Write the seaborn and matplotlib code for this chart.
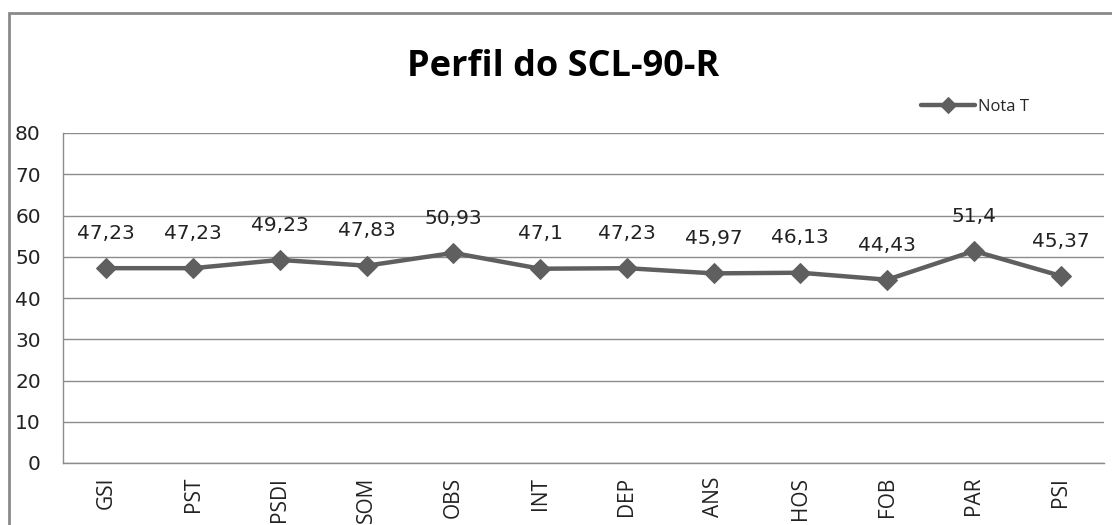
import matplotlib
matplotlib.use("Agg")
import matplotlib.pyplot as plt
from matplotlib.patches import Rectangle
import seaborn as sns
import pandas as pd

categories = ["GSI", "PST", "PSDI", "SOM", "OBS", "INT", "DEP", "ANS", "HOS", "FOB", "PAR", "PSI"]
nota_t = [47.23, 47.23, 49.23, 47.83, 50.93, 47.1, 47.23, 45.97, 46.13, 44.43, 51.4, 45.37]
y_ticks = [0, 10, 20, 30, 40, 50, 60, 70, 80]
title = "Perfil do SCL-90-R"
series_name = "Nota T"

sns.set_theme(style="white")
plt.rcParams['font.family'] = ['DejaVu Sans']

df = pd.DataFrame({"cat": categories, "val": nota_t})

fig = plt.figure(figsize=(11.12, 5.25), dpi=100)
ax = fig.add_axes([63/1112, 62/525, (1104-63)/1112, (463-133)/525])

line_color = "#5f5f5f"
sns.lineplot(data=df, x="cat", y="val", ax=ax, sort=False, color=line_color,
             linewidth=3.2, marker="D", markersize=10, markeredgecolor=line_color,
             label=series_name, legend=False)

ax.set_xlim(-0.5, len(categories) - 0.5)
ax.set_ylim(0, 80)
ax.set_yticks(y_ticks)
ax.set_yticklabels([str(t) for t in y_ticks], fontsize=14.5, color="#222222")
ax.set_xticks(range(len(categories)))
ax.set_xticklabels(categories, rotation=90, fontsize=15, family="Open Sans", color="#222222")
ax.tick_params(axis="both", length=0)
ax.tick_params(axis="y", pad=16)
ax.tick_params(axis="x", pad=10)
ax.set_xlabel("")
ax.set_ylabel("")

ax.grid(axis="y", color="#8c8c8c", linewidth=1)
ax.grid(axis="x", visible=False)
ax.set_axisbelow(True)
for side in ["top", "right"]:
    ax.spines[side].set_visible(False)
for side in ["left", "bottom"]:
    ax.spines[side].set_color("#8c8c8c")
    ax.spines[side].set_linewidth(1)

for i, v in enumerate(nota_t):
    ax.annotate(f"{v:g}".replace(".", ","), xy=(i, v), xytext=(0, 25),
                textcoords="offset points", ha="center", va="center",
                fontsize=14.5, color="#222222")

handles, labels = ax.get_legend_handles_labels()
fig.legend(handles, labels, loc="center", bbox_to_anchor=(975/1112, 1 - 107/525),
           frameon=False, prop={"family": "Open Sans", "size": 12},
           handlelength=3.2, handletextpad=0.2, markerscale=0.8)

fig.text(563/1112, 1 - 67/525, title, ha="center", va="center", fontsize=26,
         fontweight="bold", family="Open Sans", color="#000000")

fig.patches.append(Rectangle((9/1112, -0.2), 1.2, 1.2 - 13/525, transform=fig.transFigure,
                             fill=False, edgecolor="#8a8a8a", linewidth=2, clip_on=False))

fig.savefig("out.png", dpi=100, facecolor="white")
